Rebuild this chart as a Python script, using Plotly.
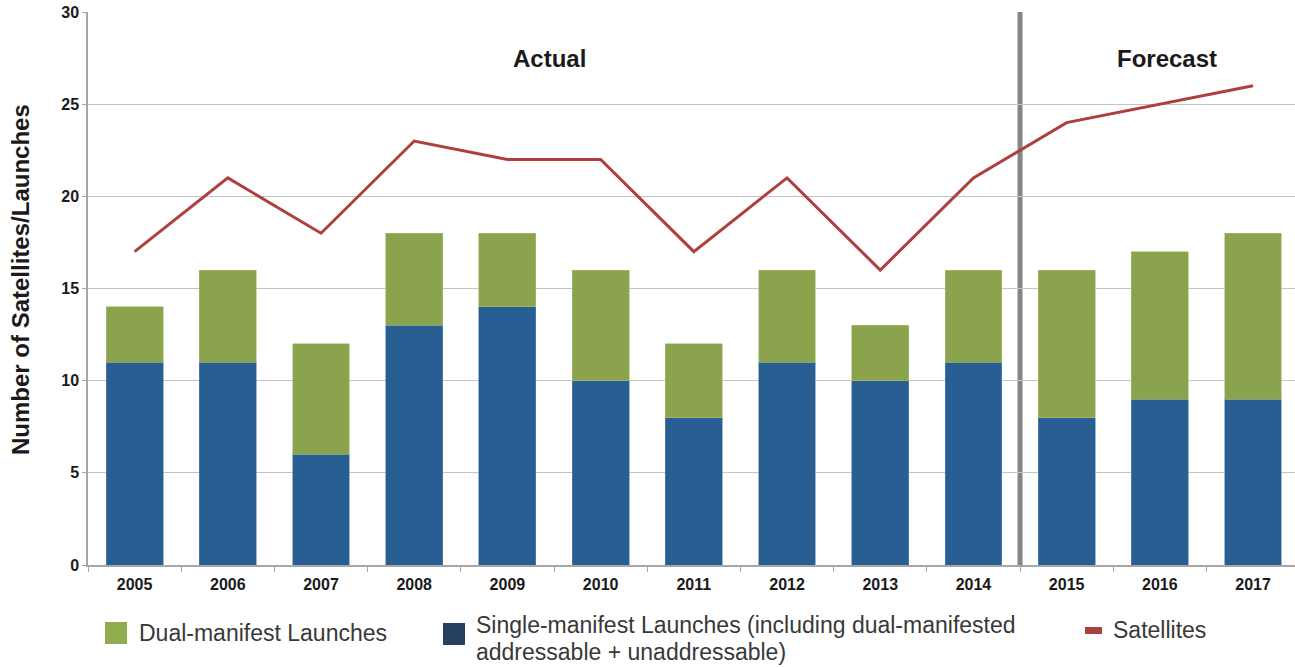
import plotly.graph_objects as go

years = ['2005', '2006', '2007', '2008', '2009', '2010', '2011', '2012', '2013', '2014', '2015', '2016', '2017']
single_manifest = [11, 11, 6, 13, 14, 10, 8, 11, 10, 11, 8, 9, 9]
dual_manifest = [3, 5, 6, 5, 4, 6, 4, 5, 3, 5, 8, 8, 9]
satellites = [17, 21, 18, 23, 22, 22, 17, 21, 16, 21, 24, 25, 26]

BLUE = '#285e91'
GREEN = '#8aa34c'
RED = '#ad403c'
LEG_BLUE = '#26405f'
LEG_GREEN = '#8fac4e'
FONT = 'Liberation Sans'

# layout geometry (pixels)
W, H = 1295, 667
ML, MR, MT, MB = 88, 0, 12, 102
PW, PH = W - ML - MR, H - MT - MB


def px(x):
    return (x - ML) / PW


def py(y):
    return (H - MB - y) / PH


fig = go.Figure()
fig.add_bar(x=years, y=single_manifest, marker=dict(color=BLUE, line=dict(color='#5b86b3', width=0.6)),
            width=0.61, showlegend=False, name='Single-manifest Launches')
fig.add_bar(x=years, y=dual_manifest, marker=dict(color=GREEN, line=dict(color='#a9bf78', width=0.6)),
            width=0.61, showlegend=False, name='Dual-manifest Launches')
fig.add_scatter(x=years, y=satellites, mode='lines', line=dict(color=RED, width=3),
                showlegend=False, name='Satellites')

shapes = [
    dict(type='line', xref='x', yref='y', x0=9.5, x1=9.5, y0=0, y1=30,
         line=dict(color='#858585', width=5), layer='below'),
    # legend markers
    dict(type='rect', xref='paper', yref='paper', x0=px(105), x1=px(127), y0=py(644), y1=py(622),
         fillcolor=LEG_GREEN, line=dict(width=0)),
    dict(type='rect', xref='paper', yref='paper', x0=px(443), x1=px(465), y0=py(645), y1=py(623),
         fillcolor=LEG_BLUE, line=dict(width=0)),
    dict(type='rect', xref='paper', yref='paper', x0=px(1085), x1=px(1102), y0=py(634), y1=py(627),
         fillcolor=RED, line=dict(width=0)),
]

leg_font = dict(family=FONT, size=23, color='#383838')
annotations = [
    dict(text='Actual', x=4.45, y=27.5, xref='x', yref='y', showarrow=False,
         font=dict(family=FONT, size=24, color='#1a1a1a', weight='bold')),
    dict(text='Forecast', x=11.08, y=27.5, xref='x', yref='y', showarrow=False,
         font=dict(family=FONT, size=24, color='#1a1a1a', weight='bold')),
    dict(text='Number of Satellites/Launches', x=px(20), y=py(280), xref='paper', yref='paper',
         showarrow=False, textangle=-90, xanchor='center', yanchor='middle',
         font=dict(family=FONT, size=24, color='#1a1a1a', weight='bold')),
    dict(text='Dual-manifest Launches', x=px(137), y=py(633), xref='paper', yref='paper',
         showarrow=False, xanchor='left', yanchor='middle', font=leg_font),
    dict(text='Single-manifest Launches (including dual-manifested',
         x=px(474), y=py(625), xref='paper', yref='paper', align='left',
         showarrow=False, xanchor='left', yanchor='middle', font=leg_font),
    dict(text='addressable + unaddressable)',
         x=px(474), y=py(652), xref='paper', yref='paper', align='left',
         showarrow=False, xanchor='left', yanchor='middle', font=leg_font),
    dict(text='Satellites', x=px(1111), y=py(630), xref='paper', yref='paper',
         showarrow=False, xanchor='left', yanchor='middle', font=leg_font),
]

fig.update_layout(
    width=W, height=H,
    margin=dict(l=ML, r=MR, t=MT, b=MB, pad=0),
    barmode='stack',
    bargap=0.39,
    plot_bgcolor='white', paper_bgcolor='white',
    shapes=shapes, annotations=annotations,
    showlegend=False,
    xaxis=dict(type='category', range=[-0.5, 12.45], showline=True, linecolor='#a6a6a6', linewidth=1.5,
               ticks='outside', ticklen=5, tickcolor='#a6a6a6', tickson='boundaries',
               ticklabelstandoff=4,
               showgrid=False, tickfont=dict(family=FONT, size=16, color='#1a1a1a', weight='bold')),
    yaxis=dict(range=[0, 30], dtick=5, showline=True, linecolor='#a6a6a6', linewidth=1.5,
               ticks='outside', ticklen=4, tickcolor='#a6a6a6',
               showgrid=True, gridcolor='#c4c4c4', gridwidth=1, zeroline=False,
               tickfont=dict(family=FONT, size=16, color='#1a1a1a', weight='bold')),
)

fig.write_html('out.html')
